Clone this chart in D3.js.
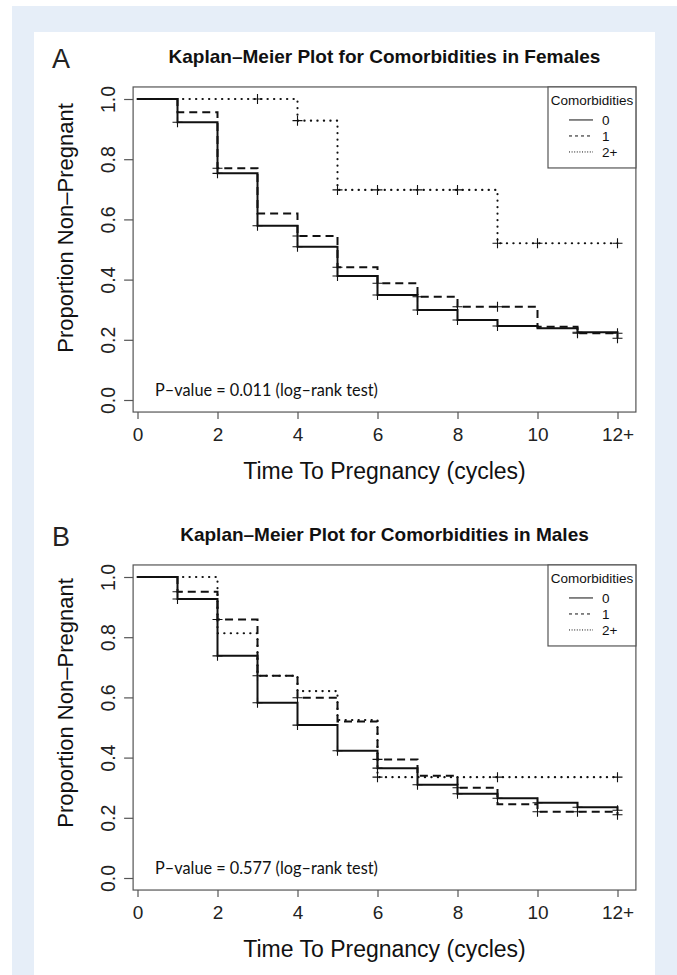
<!DOCTYPE html>
<html>
<head>
<meta charset="utf-8">
<script src="https://cdn.jsdelivr.net/npm/d3@7"></script>
<style>
  html, body { margin: 0; padding: 0; background: #ffffff; }
  svg { display: block; }
</style>
</head>
<body>
<script>
// ---------- DATA ----------
const cycles = [0, 1, 2, 3, 4, 5, 6, 7, 8, 9, 10, 11, 12];
const xTicks = [0, 2, 4, 6, 8, 10, 12];
const xTickLabels = ["0", "2", "4", "6", "8", "10", "12+"];
const yTicks = [0, 0.2, 0.4, 0.6, 0.8, 1.0];
const groups = ["0", "1", "2+"];

// Females (panel A)
const femNone    = [1.0, 0.923, 0.753, 0.579, 0.509, 0.412, 0.349, 0.299, 0.266, 0.246, 0.238, 0.225, 0.222];
const femOne     = [1.0, 0.956, 0.770, 0.620, 0.545, 0.441, 0.388, 0.343, 0.310, 0.310, 0.243, 0.222, 0.205];
const femTwoPlus = [1.0, 1.0, 1.0, 1.0, 0.928, 0.698, 0.698, 0.698, 0.698, 0.521, 0.521, 0.521, 0.521];
const femNoneCens    = [1, 2, 3, 4, 5, 6, 7, 8, 9, 11, 12];
const femOneCens     = [2, 4, 5, 6, 7, 8, 9, 11, 12];
const femTwoPlusCens = [3, 4, 5, 6, 7, 8, 9, 10, 12];

// Males (panel B)
const maleNone    = [1.0, 0.927, 0.738, 0.582, 0.508, 0.423, 0.365, 0.310, 0.280, 0.265, 0.250, 0.235, 0.225];
const maleOne     = [1.0, 0.951, 0.859, 0.672, 0.599, 0.520, 0.394, 0.340, 0.300, 0.245, 0.220, 0.220, 0.210];
const maleTwoPlus = [1.0, 1.0, 0.813, 0.672, 0.621, 0.525, 0.335, 0.335, 0.335, 0.335, 0.335, 0.335, 0.335];
const maleNoneCens    = [1, 2, 3, 4, 5, 6, 7, 8, 9, 10, 11, 12];
const maleOneCens     = [1, 2, 3, 4, 6, 8, 10, 11, 12];
const maleTwoPlusCens = [6, 9, 12];

const panels = [
  { letter: "A", title: "Kaplan\u2013Meier Plot for Comorbidities in Females",
    pval: "P\u2013value = 0.011 (log\u2013rank test)",
    series: [femNone, femOne, femTwoPlus], cens: [femNoneCens, femOneCens, femTwoPlusCens] },
  { letter: "B", title: "Kaplan\u2013Meier Plot for Comorbidities in Males",
    pval: "P\u2013value = 0.577 (log\u2013rank test)",
    series: [maleNone, maleOne, maleTwoPlus], cens: [maleNoneCens, maleOneCens, maleTwoPlusCens] }
];

// ---------- LAYOUT ----------
const W = 677, H = 975;
const dashFor = ["none", "8,5", "0.3,6.2"];
const legendDash = ["none", "3,3", "1,1.6"];
const ink = "#111";
const axisCol = "#555";
const font = "Liberation Sans, Arial, Helvetica, sans-serif";

const svg = d3.select("body").append("svg").attr("width", W).attr("height", H);
svg.append("rect").attr("x", 0).attr("y", 0).attr("width", W).attr("height", H).attr("fill", "#ffffff");
svg.append("rect").attr("x", 12).attr("y", 6).attr("width", W - 12).attr("height", H - 6).attr("fill", "#e6eef8");
svg.append("rect").attr("x", 34).attr("y", 32).attr("width", 621).attr("height", H - 32).attr("fill", "#ffffff");

const x = d3.scaleLinear().domain([0, 12]).range([137.5, 617.5]);
const boxX0 = x(-0.11), boxX1 = x(12.46);

panels.forEach((p, i) => {
  const off = i * 478;
  const y = d3.scaleLinear().domain([0, 1]).range([400 + off, 99 + off]);
  const boxY0 = y(1.04), boxY1 = y(-0.04);
  const g = svg.append("g");

  // panel letter
  g.append("text").attr("x", 52).attr("y", 68 + off)
    .attr("font-family", font).attr("font-size", 27)
    .attr("fill", "#222").text(p.letter);

  // title
  g.append("text").attr("x", (boxX0 + boxX1) / 2).attr("y", 63 + off)
    .attr("text-anchor", "middle").attr("font-family", font)
    .attr("font-weight", "bold").attr("font-size", 19).attr("fill", "#111").text(p.title);

  // box
  g.append("rect").attr("x", boxX0).attr("y", boxY0).attr("width", boxX1 - boxX0)
    .attr("height", boxY1 - boxY0).attr("fill", "none").attr("stroke", axisCol).attr("stroke-width", 1.2);

  // x axis
  const xa = g.append("g").attr("transform", `translate(0,${boxY1})`)
    .call(d3.axisBottom(x).tickValues(xTicks).tickSize(7).tickPadding(8)
      .tickFormat((d, k) => xTickLabels[k]));
  xa.select(".domain").remove();
  xa.selectAll("line").attr("stroke", axisCol).attr("stroke-width", 1.2);
  xa.selectAll("text").attr("font-family", font)
    .attr("font-size", 19).attr("fill", "#222");

  // y axis
  const ya = g.append("g").attr("transform", `translate(${boxX0},0)`)
    .call(d3.axisLeft(y).tickValues(yTicks).tickSize(9).tickFormat(d3.format(".1f")));
  ya.select(".domain").remove();
  ya.selectAll("line").attr("stroke", axisCol).attr("stroke-width", 1.2);
  ya.selectAll("text").attr("transform", "rotate(-90)").attr("x", 0).attr("y", -18).attr("dy", 0)
    .attr("text-anchor", "middle").attr("font-family", font)
    .attr("font-size", 19.5).attr("fill", "#222");

  // axis titles
  g.append("text").attr("x", (boxX0 + boxX1) / 2).attr("y", 479 + off)
    .attr("text-anchor", "middle").attr("font-family", font)
    .attr("font-size", 23).attr("fill", "#111").text("Time To Pregnancy (cycles)");
  const ycen = i === 0 ? 228 : 703;
  g.append("text").attr("transform", `translate(73,${ycen}) rotate(-90)`)
    .attr("text-anchor", "middle").attr("font-family", font)
    .attr("font-size", 22).attr("fill", "#111").text("Proportion Non\u2013Pregnant");

  // curves
  const line = d3.line().x(d => x(d[0])).y(d => y(d[1])).curve(d3.curveStepAfter);
  p.series.forEach((s, k) => {
    const pts = cycles.map((c, j) => [c, s[j]]);
    g.append("path").attr("d", line(pts)).attr("fill", "none").attr("stroke", ink)
      .attr("stroke-width", k === 2 ? 2.1 : 2).attr("stroke-dasharray", dashFor[k])
      .attr("stroke-linecap", k === 2 ? "round" : "butt");
    // censor marks
    p.cens[k].forEach(t => {
      const cx = x(t), cy = y(s[cycles.indexOf(t)]);
      g.append("path").attr("d", `M${cx - 5},${cy}H${cx + 5}M${cx},${cy - 5}V${cy + 5}`)
        .attr("stroke", ink).attr("stroke-width", 1.1).attr("fill", "none");
    });
  });

  // p-value
  g.append("text").attr("x", 155).attr("y", 396 + off)
    .attr("font-family", "Lato, 'Open Sans', sans-serif").attr("font-size", 16.3)
    .attr("fill", "#111").text(p.pval);

  // legend
  const lx0 = 548, ly0 = boxY0, lw = boxX1 - 548, lh = 81;
  g.append("rect").attr("x", lx0).attr("y", ly0).attr("width", lw).attr("height", lh)
    .attr("fill", "#fff").attr("stroke", axisCol).attr("stroke-width", 1.2);
  g.append("text").attr("x", lx0 + lw / 2).attr("y", ly0 + 18).attr("text-anchor", "middle")
    .attr("font-family", font).attr("font-size", 13.5)
    .attr("fill", "#111").text("Comorbidities");
  groups.forEach((gname, k) => {
    const ly = ly0 + 33 + k * 16;
    g.append("line").attr("x1", 569).attr("x2", 593).attr("y1", ly).attr("y2", ly)
      .attr("stroke", ink).attr("stroke-width", 1).attr("stroke-dasharray", legendDash[k]);
    g.append("text").attr("x", 602).attr("y", ly + 5)
      .attr("font-family", font).attr("font-size", 13.5)
      .attr("fill", "#111").text(gname);
  });
});
</script>
</body>
</html>
